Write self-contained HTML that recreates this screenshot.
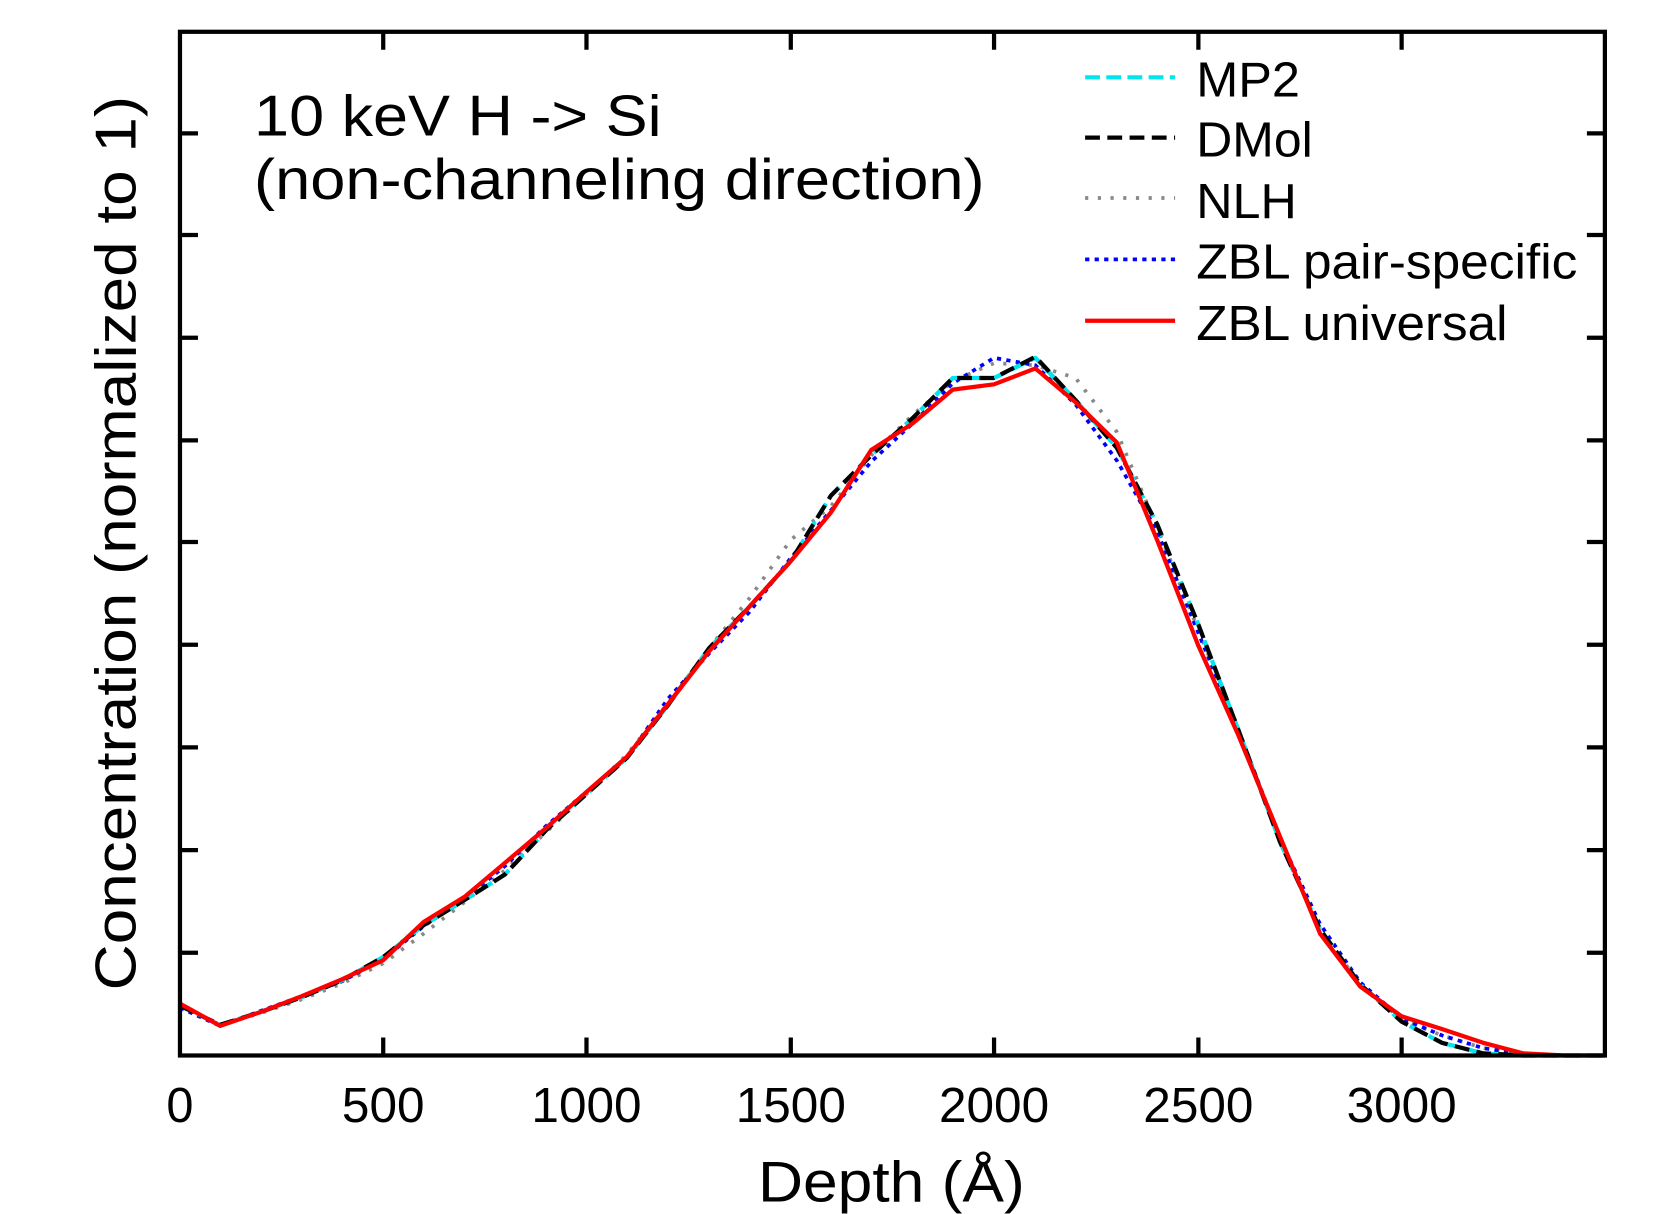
<!DOCTYPE html>
<html><head><style>html,body{margin:0;padding:0;background:#fff}svg{display:block}</style></head>
<body>
<svg width="1661" height="1214" viewBox="0 0 1569 1146.7" xmlns="http://www.w3.org/2000/svg" font-family="Liberation Sans, sans-serif">
<rect width="1569" height="1147" fill="#fff"/>
<g fill="none" stroke-linejoin="round">
<polyline stroke="#888" stroke-width="3.5" stroke-dasharray="3,9" points="170,950 208,968 246,957 285,944 323,929 362,910 400,882 439,852 477,822 516,786 554,750 592,713 631,664 670,612 708,565 747,510 785,478 823,430 862,392 900,360 939,343 978,345 1016,357 1055,408 1093,498 1132,595 1170,690 1209,795 1247,878 1285,930 1324,963 1362,978 1401,990 1439,996 1478,997 1516,997"/>
<polyline stroke="#0000ff" stroke-width="3.5" stroke-dasharray="4,5" points="170,952 208,969 246,955 285,941 323,927 362,906 400,875 439,849 477,818 516,780 554,748 592,716 631,660 670,617 708,578 747,527 785,482 823,436 862,400 900,362 939,338 978,345 1016,382 1055,435 1093,502 1132,598 1170,690 1209,792 1247,873 1285,928 1324,962 1362,978 1401,990 1439,996 1478,997 1516,997"/>
<polyline stroke="#00e5ee" stroke-width="4" stroke-dasharray="14,6" points="170,950 208,968 246,956 285,942 323,926 362,904 400,874 439,850 477,826 516,784 554,750 592,716 631,666 670,612 708,573 747,530 785,468 823,430 862,395 900,357 939,357 978,338 1016,378 1055,423 1093,495 1132,590 1170,690 1209,795 1247,878 1285,930 1324,965 1362,985 1401,995 1439,997 1478,997 1516,997"/>
<polyline stroke="#000" stroke-width="4" stroke-dasharray="14,7" points="170,950 208,968 246,956 285,942 323,926 362,904 400,874 439,850 477,826 516,784 554,750 592,716 631,666 670,612 708,573 747,530 785,468 823,430 862,395 900,357 939,357 978,337 1016,378 1055,423 1093,495 1132,590 1170,690 1209,795 1247,878 1285,930 1324,965 1362,985 1401,995 1439,997 1478,997 1516,997"/>
<polyline stroke="#ff0000" stroke-width="4" points="170,948 208,969 246,956 285,941 323,925 362,907 400,871 439,847 477,815 516,782 554,748 592,715 631,665 670,615 708,573 747,530 785,484 823,425 862,400 900,368 939,363 978,348 1016,380 1055,418 1093,510 1132,610 1170,695 1209,790 1247,882 1285,932 1324,960 1362,972 1401,985 1439,995 1478,997 1516,997"/>
</g>
<rect x="170" y="30" width="1346" height="967" fill="none" stroke="#000" stroke-width="4"/>
<g stroke="#000" stroke-width="4">
<path d="M362,997v-17M554,997v-17M747,997v-17M939,997v-17M1132,997v-17M1324,997v-17M362,30v17M554,30v17M747,30v17M939,30v17M1132,30v17M1324,30v17"/>
<path d="M170,900h17M170,803h17M170,706h17M170,609h17M170,512h17M170,416h17M170,319h17M170,222h17M170,126h17M1516,900h-17M1516,803h-17M1516,706h-17M1516,609h-17M1516,512h-17M1516,416h-17M1516,319h-17M1516,222h-17M1516,126h-17"/>
</g>
<g font-size="46" text-anchor="middle" fill="#000">
<text x="170" y="1060">0</text><text x="362" y="1060" textLength="78" lengthAdjust="spacingAndGlyphs">500</text><text x="554" y="1060" textLength="104" lengthAdjust="spacingAndGlyphs">1000</text><text x="747" y="1060" textLength="104" lengthAdjust="spacingAndGlyphs">1500</text><text x="939" y="1060" textLength="104" lengthAdjust="spacingAndGlyphs">2000</text><text x="1132" y="1060" textLength="104" lengthAdjust="spacingAndGlyphs">2500</text><text x="1324" y="1060" textLength="104" lengthAdjust="spacingAndGlyphs">3000</text>
</g>
<text x="842" y="1135" font-size="54" text-anchor="middle" textLength="252" lengthAdjust="spacingAndGlyphs">Depth (Å)</text>
<text transform="translate(128,513) rotate(-90)" font-size="54" text-anchor="middle" textLength="845" lengthAdjust="spacingAndGlyphs">Concentration (normalized to 1)</text>
<text x="240" y="128" font-size="54" textLength="385" lengthAdjust="spacingAndGlyphs">10 keV H -&gt; Si</text>
<text x="240" y="188" font-size="54" textLength="690" lengthAdjust="spacingAndGlyphs">(non-channeling direction)</text>
<g stroke-width="4">
<line x1="1025" y1="73" x2="1110" y2="73" stroke="#00e5ee" stroke-dasharray="14,6"/>
<line x1="1025" y1="130" x2="1110" y2="130" stroke="#000" stroke-dasharray="14,7"/>
<line x1="1025" y1="187" x2="1110" y2="187" stroke="#888" stroke-width="3.5" stroke-dasharray="3,9"/>
<line x1="1025" y1="245" x2="1110" y2="245" stroke="#0000ff" stroke-width="3.5" stroke-dasharray="4,5"/>
<line x1="1025" y1="303" x2="1110" y2="303" stroke="#ff0000"/>
</g>
<g font-size="46">
<text x="1130" y="91" textLength="98" lengthAdjust="spacingAndGlyphs">MP2</text><text x="1130" y="148" textLength="110" lengthAdjust="spacingAndGlyphs">DMol</text><text x="1130" y="206" textLength="95" lengthAdjust="spacingAndGlyphs">NLH</text><text x="1130" y="263" textLength="360" lengthAdjust="spacingAndGlyphs">ZBL pair-specific</text><text x="1130" y="321" textLength="294" lengthAdjust="spacingAndGlyphs">ZBL universal</text>
</g>
</svg>
</body></html>
